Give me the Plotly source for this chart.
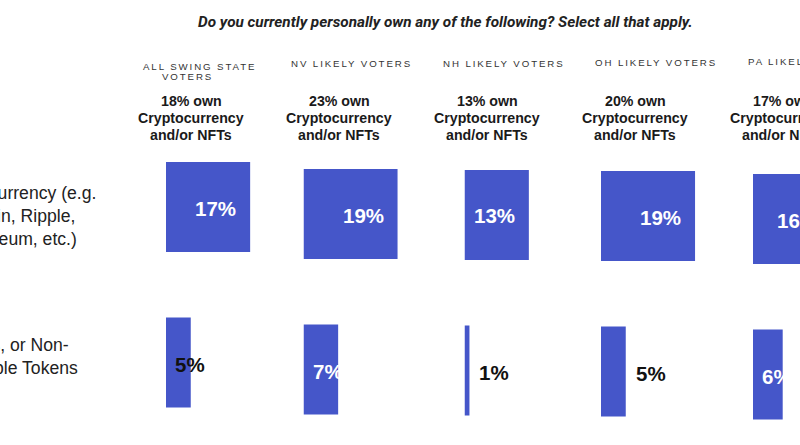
import plotly.graph_objects as go

# ---------------- data ----------------
title_text = "Do you currently personally own any of the following? Select all that apply."
categories = ["Cryptocurrency (e.g.<br>Bitcoin, Ripple,<br>Ethereum, etc.)",
              "NFTs, or Non-<br>Fungible Tokens"]
group_lines = [["ALL SWING STATE", "VOTERS"], ["NV LIKELY VOTERS"], ["NH LIKELY VOTERS"],
               ["OH LIKELY VOTERS"], ["PA LIKELY VOTERS"]]
own_any = [18, 23, 13, 20, 17]
crypto = [17, 19, 13, 19, 16]
nft = [5, 7, 1, 5, 6]

# ---------------- style / layout ----------------
W, H = 860, 445
BLUE = "#4556C9"
PX_PER_PCT = 4.95
ROW_PX = 155.5
X_MAX = 20
panel_x0 = [166, 303.5, 464.5, 601, 753]      # left edge of bars (px)
panel_yc = [207, 214, 215, 216, 219]          # centre of first bar row (px)
hdr_cx = [199, 351, 504, 656, 807]
hdr_y = [[66, 77], [63.5], [63.5], [63], [62]]
bold_cx = [191, 339, 487, 635, 783]
bold_y = [101, 118, 135]
nft_label_color = ["#111111", "white", "#111111", "#111111", "white"]
nft_label_mode = ["base", "base", "end", "end", "base"]
cat_cx = [16, 14]
cat_y = [216, 356]


def px(x):
    return x / W


def py(y):
    return 1 - y / H


fig = go.Figure()
annotations = []
layout_axes = {}

for i in range(len(crypto)):
    n = "" if i == 0 else str(i + 1)
    x0 = panel_x0[i]
    x1 = x0 + X_MAX * PX_PER_PCT
    ytop = panel_yc[i] - 0.8 * ROW_PX
    ybot = panel_yc[i] + 1.3 * ROW_PX
    layout_axes["xaxis" + n] = dict(domain=[px(x0), px(x1)], range=[0, X_MAX], visible=False,
                                    anchor="y" + n, fixedrange=True)
    layout_axes["yaxis" + n] = dict(domain=[py(ybot), py(ytop)], range=[1.3, -0.8], visible=False,
                                    anchor="x" + n, type="category", fixedrange=True)
    fig.add_trace(go.Bar(
        orientation="h", y=categories, x=[crypto[i], nft[i]],
        xaxis="x" + n, yaxis="y" + n, width=0.58,
        marker=dict(color=BLUE, line=dict(width=0)), hoverinfo="skip", showlegend=False,
    ))
    # crypto value label (white, right side inside bar)
    annotations.append(dict(
        xref="x" + n, yref="y" + n, x=crypto[i], y=0, text=f"{crypto[i]}%",
        xanchor="right", yanchor="middle", xshift=-12, yshift=-1, showarrow=False,
        font=dict(family="Liberation Sans, Arial", size=20.5, color="white", weight="bold"),
    ))
    # nft value label
    if nft_label_mode[i] == "base":
        ax_x, shift = 0, 7
    else:
        ax_x, shift = nft[i], 8
    annotations.append(dict(
        xref="x" + n, yref="y" + n, x=ax_x, y=1, text=f"{nft[i]}%",
        xanchor="left", yanchor="middle", xshift=shift, yshift=-2, showarrow=False,
        font=dict(family="Liberation Sans, Arial", size=20.5, color=nft_label_color[i], weight="bold"),
    ))
    # group header (letter-spaced caps)
    for line, yy in zip(group_lines[i], hdr_y[i]):
        annotations.append(dict(
            xref="paper", yref="paper",
            x=px(hdr_cx[i] - 12 if (len(group_lines[i]) > 1 and line == "VOTERS") else hdr_cx[i]),
            y=py(yy), text=f'<span style="letter-spacing:1.9px">{line}</span>',
            xanchor="center", yanchor="middle", showarrow=False,
            font=dict(family="Liberation Sans, Arial", size=9.7, color="#333333"),
        ))
    # bold summary
    for line, yy in zip([f"{own_any[i]}% own", "Cryptocurrency", "and/or NFTs"], bold_y):
        annotations.append(dict(
            xref="paper", yref="paper", x=px(bold_cx[i]), y=py(yy), text=line,
            xanchor="center", yanchor="middle", showarrow=False,
            font=dict(family="Liberation Sans, Arial", size=14.2, color="#1a1a1a", weight="bold"),
        ))

# category labels on the left (partially cut by the page edge)
for cat, cx, yy in zip(categories, cat_cx, cat_y):
    annotations.append(dict(
        xref="paper", yref="paper", x=px(cx), y=py(yy), text=cat,
        xanchor="center", yanchor="middle", align="center", showarrow=False,
        font=dict(family="Liberation Sans, Arial", size=17.6, color="#222222"),
    ))

# title
annotations.append(dict(
    xref="paper", yref="paper", x=px(445), y=py(22), text=f"<b><i>{title_text}</i></b>",
    xanchor="center", yanchor="middle", showarrow=False,
    font=dict(family="Roboto, Liberation Sans, Arial", size=15.3, color="#222222"),
))

fig.update_layout(
    width=W, height=H, autosize=False,
    margin=dict(l=0, r=0, t=0, b=0),
    paper_bgcolor="white", plot_bgcolor="rgba(0,0,0,0)",
    annotations=annotations, showlegend=False,
    **layout_axes,
)

fig.write_html("out.html", config={"displayModeBar": False},
               post_script="document.body.style.margin='0';document.body.style.overflow='hidden';")
